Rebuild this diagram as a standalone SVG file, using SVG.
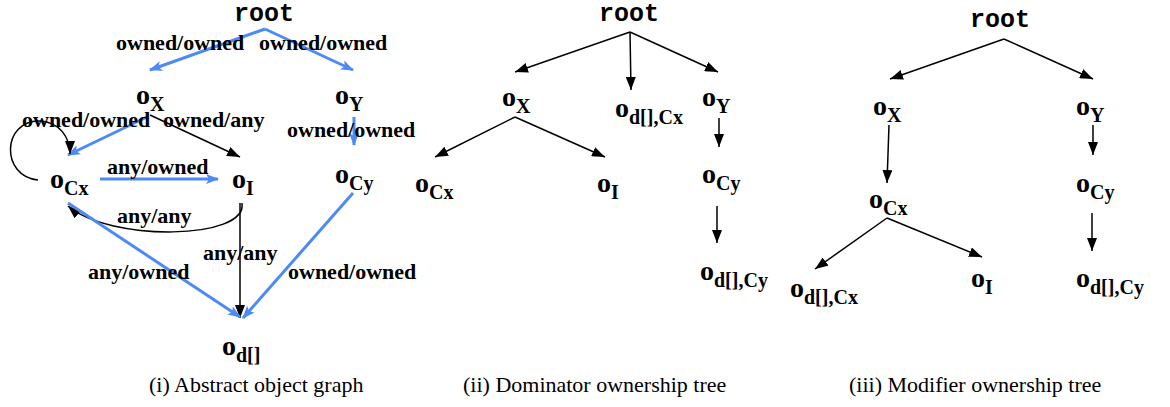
<svg xmlns="http://www.w3.org/2000/svg" width="1170" height="407" viewBox="0 0 1170 407">
<style>
.n{font-family:"Liberation Serif","Times New Roman",serif;font-weight:bold;font-size:28px;fill:#000}
.s{font-size:20px}
.r{font-family:"Liberation Mono","Courier New",monospace;font-weight:bold;font-size:25px;fill:#000;text-anchor:middle}
.l{font-family:"Liberation Serif","Times New Roman",serif;font-weight:bold;font-size:22px;fill:#000}
.c{font-family:"Liberation Serif","Times New Roman",serif;font-size:22px;fill:#000}
.k{fill:none;stroke:#000;stroke-width:1.5;marker-end:url(#ak)}
.b{fill:none;stroke:#4d8af5;stroke-width:3;marker-end:url(#ab)}
</style>
<defs>
<marker id="ak" viewBox="0 0 13 10" refX="13" refY="5" markerWidth="13" markerHeight="10" orient="auto" markerUnits="userSpaceOnUse"><path d="M0,0 L13,5 L0,10 z" fill="#000"/></marker>
<marker id="ab" viewBox="0 0 13 10" refX="12" refY="5" markerWidth="13" markerHeight="10" orient="auto" markerUnits="userSpaceOnUse"><path d="M0,0 L13,5 L0,10 L3,5 z" fill="#4d8af5"/></marker>
</defs>
<rect width="1170" height="407" fill="#fff"/>

<g id="connectors">
<path class="b" d="M265,29 L150,70"/>
<path class="b" d="M265,29 L353,70"/>
<path class="b" d="M354,117 L354,145"/>
<path class="b" d="M147,117 L68,155"/>
<path class="k" d="M150,115 L240,157"/>
<path class="k" d="M38,180 C0,176 2,120 40,121 C60,122 70,138 70,154"/>
<path class="b" d="M100,179 L218,179"/>
<path class="k" d="M242,203 C248,240 110,242 68,206"/>
<path class="k" d="M240,203 L240,318"/>
<path class="b" d="M68,203 L240,317"/>
<path class="b" d="M353,193 L243,318"/>

<path class="k" d="M630,32 L515,72"/>
<path class="k" d="M630,32 L631,90"/>
<path class="k" d="M630,32 L718,72"/>
<path class="k" d="M515,117 L435,157"/>
<path class="k" d="M515,117 L605,157"/>
<path class="k" d="M719,118 L719,147"/>
<path class="k" d="M717,206 L717,243"/>

<path class="k" d="M1004,39 L890,79"/>
<path class="k" d="M1004,39 L1093,79"/>
<path class="k" d="M889,125 L887,183"/>
<path class="k" d="M1093,125 L1093,155"/>
<path class="k" d="M887,218 L815,269"/>
<path class="k" d="M887,218 L982,257"/>
<path class="k" d="M1092,213 L1092,251"/>
</g>

<g id="labels">
<text class="l" x="116" y="50">owned/owned</text>
<text class="l" x="259" y="50">owned/owned</text>
<text class="l" x="22" y="127">owned/owned</text>
<text class="l" x="163" y="127">owned/any</text>
<text class="l" x="287" y="137">owned/owned</text>
<text class="l" x="107" y="174">any/owned</text>
<text class="l" x="117" y="223">any/any</text>
<text class="l" x="203" y="260">any/any</text>
<text class="l" x="88" y="279">any/owned</text>
<text class="l" x="288" y="279">owned/owned</text>
</g>

<g id="i-root"><text class="r" x="264" y="21">root</text></g>
<g id="i-oX"><text class="n" x="136" y="104">o<tspan class="s" dy="7">X</tspan></text></g>
<g id="i-oY"><text class="n" x="335" y="104">o<tspan class="s" dy="7">Y</tspan></text></g>
<g id="i-oCx"><text class="n" x="50" y="188">o<tspan class="s" dy="7">Cx</tspan></text></g>
<g id="i-oI"><text class="n" x="232" y="188">o<tspan class="s" dy="7">I</tspan></text></g>
<g id="i-oCy"><text class="n" x="335" y="183">o<tspan class="s" dy="7">Cy</tspan></text></g>
<g id="i-od"><text class="n" x="222" y="355">o<tspan class="s" dy="7">d[]</tspan></text></g>

<g id="ii-root"><text class="r" x="629" y="21">root</text></g>
<g id="ii-oX"><text class="n" x="502" y="106">o<tspan class="s" dy="7">X</tspan></text></g>
<g id="ii-odCx"><text class="n" x="615" y="117">o<tspan class="s" dy="7">d[],Cx</tspan></text></g>
<g id="ii-oY"><text class="n" x="702" y="106">o<tspan class="s" dy="7">Y</tspan></text></g>
<g id="ii-oCx"><text class="n" x="415" y="192">o<tspan class="s" dy="7">Cx</tspan></text></g>
<g id="ii-oI"><text class="n" x="597" y="192">o<tspan class="s" dy="7">I</tspan></text></g>
<g id="ii-oCy"><text class="n" x="702" y="183">o<tspan class="s" dy="7">Cy</tspan></text></g>
<g id="ii-odCy"><text class="n" x="700" y="280">o<tspan class="s" dy="7">d[],Cy</tspan></text></g>

<g id="iii-root"><text class="r" x="1000" y="27">root</text></g>
<g id="iii-oX"><text class="n" x="873" y="115">o<tspan class="s" dy="7">X</tspan></text></g>
<g id="iii-oY"><text class="n" x="1076" y="115">o<tspan class="s" dy="7">Y</tspan></text></g>
<g id="iii-oCx"><text class="n" x="869" y="208">o<tspan class="s" dy="7">Cx</tspan></text></g>
<g id="iii-oCy"><text class="n" x="1076" y="192">o<tspan class="s" dy="7">Cy</tspan></text></g>
<g id="iii-odCx"><text class="n" x="790" y="297">o<tspan class="s" dy="7">d[],Cx</tspan></text></g>
<g id="iii-oI"><text class="n" x="971" y="287">o<tspan class="s" dy="7">I</tspan></text></g>
<g id="iii-odCy"><text class="n" x="1076" y="287">o<tspan class="s" dy="7">d[],Cy</tspan></text></g>

<g id="captions">
<text class="c" x="149" y="392">(i) Abstract object graph</text>
<text class="c" x="463" y="392">(ii) Dominator ownership tree</text>
<text class="c" x="849" y="392">(iii) Modifier ownership tree</text>
</g>
</svg>
